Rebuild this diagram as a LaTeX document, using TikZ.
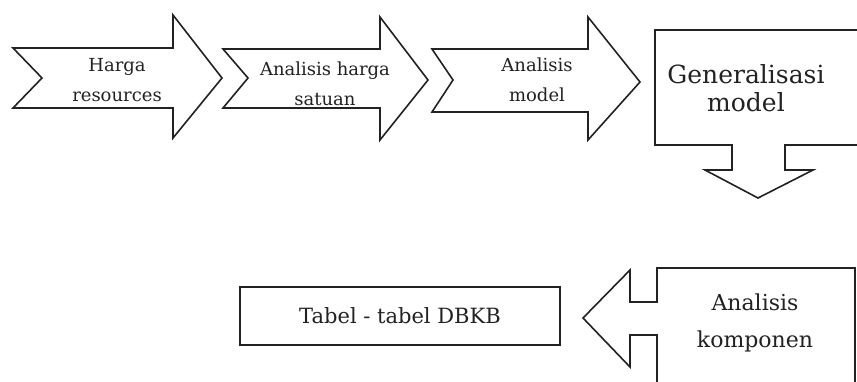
\documentclass[tikz,border=0pt]{standalone}
\usepackage{fontspec}
\setmainfont{DejaVu Serif}
\definecolor{ink}{HTML}{222222}
\begin{document}
\begin{tikzpicture}[x=1pt,y=-1pt,
  shapeline/.style={draw=ink,line width=1.6pt,line join=miter,fill=white},
  lbl/.style={text=ink,inner sep=0pt,align=center},
  small/.style={lbl,font=\fontsize{18}{30}\selectfont},
  big/.style={lbl,font=\fontsize{25}{28}\selectfont},
  mid/.style={lbl,font=\fontsize{22}{37}\selectfont}]
\clip (0,0) rectangle (857,381);
\fill[white] (0,0) rectangle (857,381);

% arrow 1
\draw[shapeline] (13,48) -- (173,48) -- (173,15) -- (222,78) -- (173,138) -- (173,108) -- (13,108) -- (42,78) -- cycle;
% arrow 2
\draw[shapeline] (223,49) -- (380,49) -- (380,17) -- (428,80) -- (380,140) -- (380,108) -- (223,108) -- (248,78) -- cycle;
% arrow 3
\draw[shapeline] (432,49) -- (588,49) -- (588,17) -- (640,82) -- (588,140) -- (588,112) -- (432,112) -- (453,80) -- cycle;

% Generalisasi box with down arrow
\draw[shapeline] (870,30) -- (655,30) -- (655,145) -- (732,145) -- (732,170) -- (705,170) -- (758,198) -- (813,170) -- (785,170) -- (785,145) -- (870,145);

% Analisis komponen box with left arrow
\draw[shapeline] (855,395) -- (855,268) -- (657,268) -- (657,302) -- (630,302) -- (630,270) -- (583,318) -- (630,367) -- (630,335) -- (657,335) -- (657,395);

% Tabel box
\node[draw=ink,line width=2.4pt,minimum width=320pt,minimum height=58pt,inner sep=0pt] (tabel) at (400,316) {};
\node[lbl,font=\fontsize{21}{24}\selectfont] (tabeltxt) at (400,316) {Tabel - tabel DBKB};

% labels
\node[small] (harga) at (117,80) {Harga\\resources};
\node[small] (ahs) at (325,84) {Analisis harga\\satuan};
\node[small] (am) at (537,80) {Analisis\\model};
\node[big] (gen) at (746,88) {Generalisasi\\model};
\node[mid] (ak) at (755,323) {Analisis\\komponen};
\end{tikzpicture}
\end{document}
